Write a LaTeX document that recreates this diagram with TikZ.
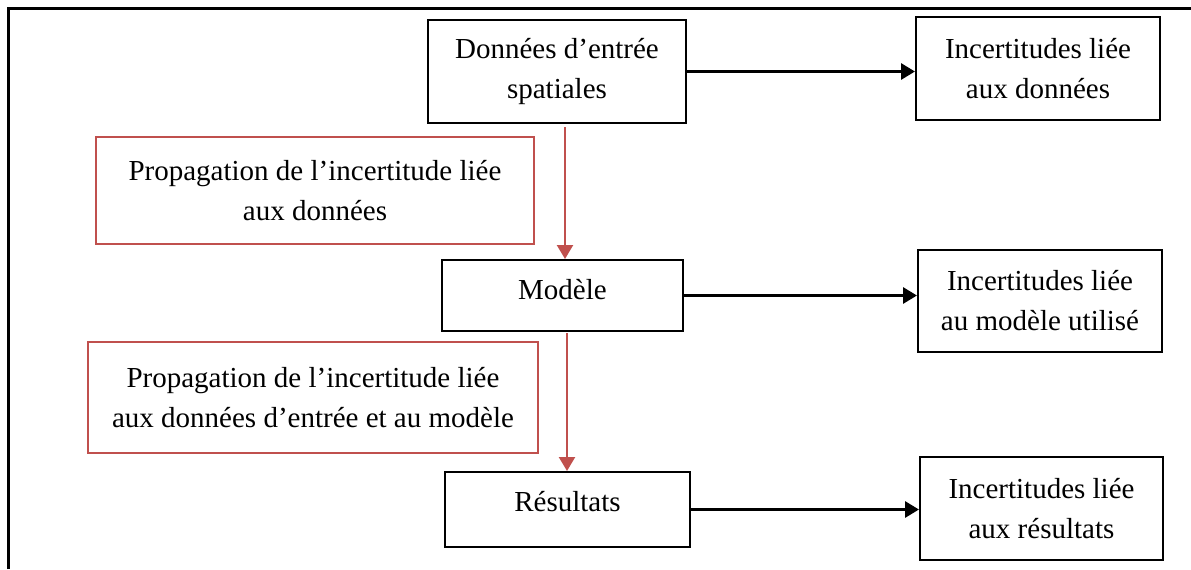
\documentclass[tikz,border=0pt]{standalone}
\usepackage{fontspec}
\setmainfont{Liberation Serif}
\usetikzlibrary{arrows.meta}
\definecolor{propred}{RGB}{192,80,77}
\tikzset{
box/.style={draw, line width=1pt, align=center, inner sep=0pt},
redbox/.style={draw=propred, line width=0.75pt, align=center, inner sep=0pt},
flow/.style={line width=1.5pt, -{Triangle[length=7pt,width=8pt]}},
prop/.style={draw=propred, line width=1.2pt, -{Triangle[length=7pt,width=8pt]}}
}

\begin{document}
\begin{tikzpicture}[x=0.5pt, y=-0.5pt, font=\fontsize{14.5}{20}\selectfont]
\useasboundingbox (0,0) rectangle (1191,569);
%frame
\draw[line width=1.5pt] (8,569) -- (8,8) -- (1191,8);
%main column
\node[box, minimum width=129pt, minimum height=51.5pt] (ent) at (557,71.5) {Données d'entrée\\spatiales};
\node[box, minimum width=120.5pt, minimum height=35.5pt, text depth=6pt] (mod) at (562.5,295.5) {Modèle};
\node[box, minimum width=122.5pt, minimum height=37.5pt, text depth=8pt] (res) at (567.5,509.5) {Résultats};
%uncertainties
\node[box, minimum width=122pt, minimum height=51.5pt] (inc1) at (1038,68.5) {Incertitudes liée\\aux données};
\node[box, minimum width=122pt, minimum height=51pt] (inc2) at (1040,301) {Incertitudes liée\\au modèle utilisé};
\node[box, minimum width=121.5pt, minimum height=51.5pt] (inc3) at (1041.5,508.5) {Incertitudes liée\\aux résultats};
%propagation
\node[redbox, minimum width=219pt, minimum height=53.5pt] (prop1) at (315,190.5) {Propagation de l'incertitude liée\\aux données};
\node[redbox, minimum width=225pt, minimum height=55.5pt] (prop2) at (313,397.5) {Propagation de l'incertitude liée\\aux données d'entrée et au modèle};
%arrows
\draw[flow] (ent.east) -- (ent.east -| inc1.west);
\draw[flow] (mod.east) -- (mod.east -| inc2.west);
\draw[flow] (res.east) -- (res.east -| inc3.west);
\coordinate (p1top) at (565,127);
\coordinate (p2top) at (567,333);
\draw[prop] (p1top) -- (p1top |- mod.north);
\draw[prop] (p2top) -- (p2top |- res.north);
\end{tikzpicture}
\end{document}
